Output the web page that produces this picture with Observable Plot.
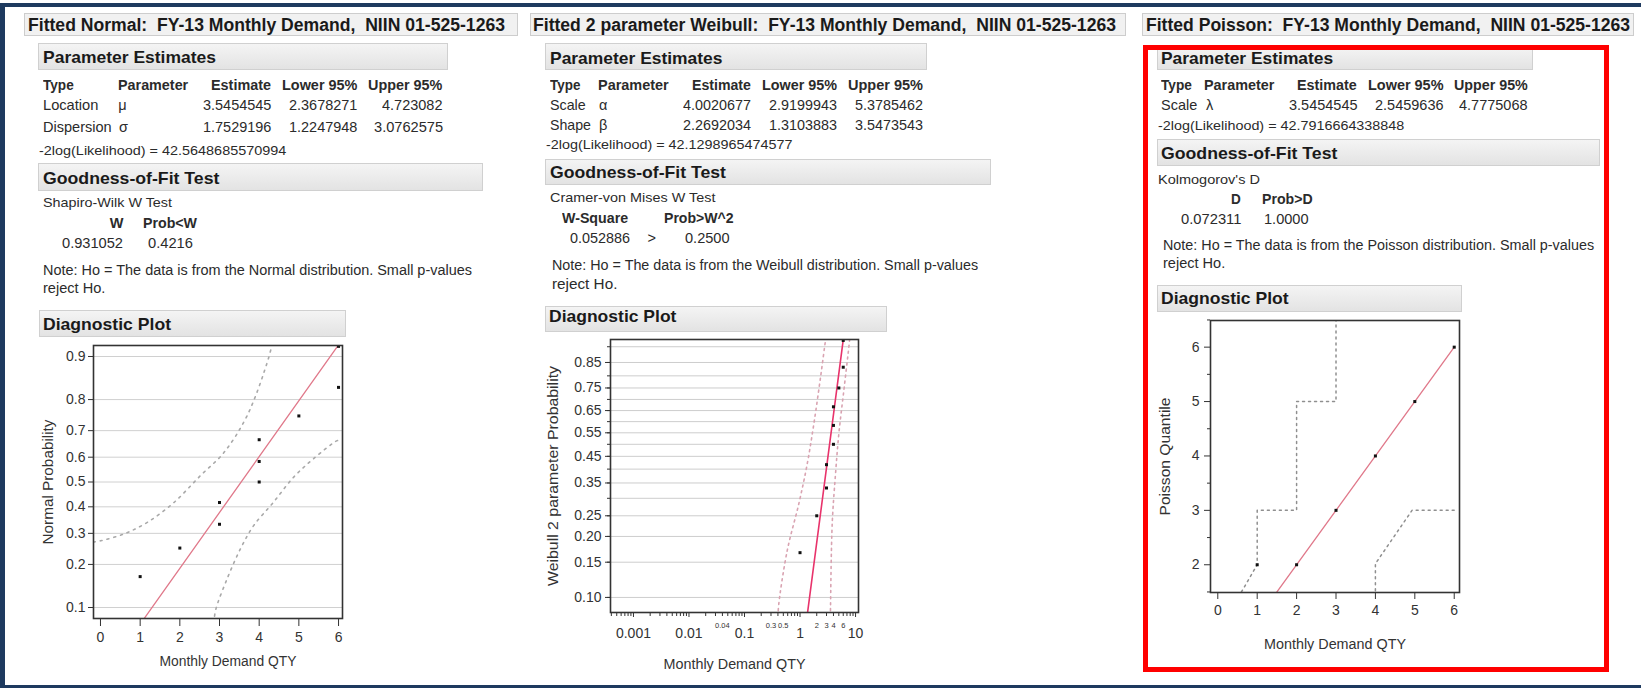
<!DOCTYPE html>
<html><head><meta charset="utf-8">
<script src="https://cdn.jsdelivr.net/npm/d3@7"></script>
<script src="https://cdn.jsdelivr.net/npm/@observablehq/plot@0.6"></script>
<style>
html,body{margin:0;padding:0;background:#fff;}
#stage{position:relative;width:1641px;height:688px;overflow:hidden;background:#fff;font-family:"Liberation Sans",Arial,sans-serif;color:#2b2b2b;}
.t{position:absolute;white-space:pre;line-height:1;}
.box{position:absolute;box-sizing:border-box;}
.title{background:#f1f1f1;border:1px solid #cdcdcd;}
.hdr{background:linear-gradient(#f4f4f4,#e3e3e3);border:1px solid #d0d0d0;}
.chart{position:absolute;}
</style></head><body><div id="stage"></div>
<script>
// ---------------- data ----------------
const demandQty = [1, 2, 3, 3, 4, 4, 4, 5, 6, 6];
const plotProb = [0.167, 0.25, 0.333, 0.417, 0.5, 0.583, 0.667, 0.75, 0.833, 0.917];

const normalMu = 3.5454545, normalSigma = 1.7529196;
const weibullAlpha = 4.0020677, weibullBeta = 2.2692034;

const normalTicks = [0.1, 0.2, 0.3, 0.4, 0.5, 0.6, 0.7, 0.8, 0.9];
const normalTickLabels = ["0.1", "0.2", "0.3", "0.4", "0.5", "0.6", "0.7", "0.8", "0.9"];
const normalXTicks = [0, 1, 2, 3, 4, 5, 6];
const normalXRange = [-0.176, 6.10];
const normalPRange = [0.0817, 0.9183];
const normalUpperX = [-0.18, 0, 0.59, 1.18, 1.85, 2.52, 3.11, 3.70, 4.24, 4.34];
const normalUpperP = [0.27, 0.274, 0.298, 0.34, 0.417, 0.526, 0.618, 0.752, 0.898, 0.925];
const normalLowerX = [2.86, 2.90, 3.19, 3.53, 3.86, 4.36, 4.87, 5.37, 5.92, 6.0];
const normalLowerP = [0.075, 0.095, 0.161, 0.248, 0.328, 0.418, 0.52, 0.594, 0.66, 0.665];

const weibullGridP = [0.10, 0.15, 0.20, 0.25, 0.30, 0.35, 0.40, 0.45, 0.50, 0.55, 0.60, 0.65, 0.70, 0.75, 0.80, 0.85, 0.90];
const weibullLabelP = [0.10, 0.15, 0.20, 0.25, 0.35, 0.45, 0.55, 0.65, 0.75, 0.85];
const weibullMajorX = [0.001, 0.01, 0.1, 1, 10];
const weibullMajorLabels = ["0.001", "0.01", "0.1", "1", "10"];
const weibullSmallX = [0.04, 0.3, 0.5, 2, 3, 4, 6];
const weibullSmallLabels = ["0.04", "0.3", "0.5", "2", "3", "4", "6"];
const weibullMinorX = [0.0004,0.0005,0.0006,0.0007,0.0008,0.0009,0.002,0.003,0.004,0.005,0.006,0.007,0.008,0.009,0.02,0.03,0.04,0.05,0.06,0.07,0.08,0.09,0.2,0.3,0.4,0.5,0.6,0.7,0.8,0.9,2,3,4,5,6,7,8,9];
const weibullXRange = [0.000386, 11.3];
const weibullPRange = [0.0838, 0.9193];
const weibullLowerX = [0.40, 0.415, 0.588, 0.952, 1.348, 1.773, 2.34, 2.88, 3.0];
const weibullLowerP = [0.08, 0.093, 0.171, 0.284, 0.420, 0.590, 0.794, 0.917, 0.93];
const weibullUpperX = [3.52, 3.54, 3.80, 4.36, 5.0, 6.15, 7.57, 7.9];
const weibullUpperP = [0.08, 0.089, 0.230, 0.383, 0.546, 0.739, 0.899, 0.925];

const poissonX = [1, 2, 3, 4, 5, 6];
const poissonQ = [2, 2, 3, 4, 5, 6];
const poissonRef = [1.45, 6];
const poissonYTicks = [2, 3, 4, 5, 6];
const poissonYMinor = [1.5, 2.5, 3.5, 4.5, 5.5, 6.5];
const poissonXTicks = [0, 1, 2, 3, 4, 5, 6];
const poissonXRange = [-0.185, 6.134];
const poissonYRange = [1.49, 6.49];
const poissonUpperX = [0.6, 1, 1, 2, 2, 3, 3];
const poissonUpperY = [1.5, 2, 3, 3, 5, 5, 6.6];
const poissonLowerX = [4, 4, 4.93, 6];
const poissonLowerY = [1.52, 2.02, 3, 3];

// ---------------- helpers ----------------
const FONT = '"Liberation Sans", Arial, sans-serif';
function probit(p){
 const a=[-3.969683028665376e+01,2.209460984245205e+02,-2.759285104469687e+02,1.383577518672690e+02,-3.066479806614716e+01,2.506628277459239e+00];
 const b=[-5.447609879822406e+01,1.615858368580409e+02,-1.556989798598866e+02,6.680131188771972e+01,-1.328068155288572e+01];
 const c=[-7.784894002430293e-03,-3.223964580411365e-01,-2.400758277161838e+00,-2.549732539343734e+00,4.374664141464968e+00,2.938163982698783e+00];
 const d=[7.784695709041462e-03,3.224671290700398e-01,2.445134137142996e+00,3.754408661907416e+00];
 const pl=0.02425, ph=1-pl; let q,r;
 if(p<pl){q=Math.sqrt(-2*Math.log(p));return (((((c[0]*q+c[1])*q+c[2])*q+c[3])*q+c[4])*q+c[5])/((((d[0]*q+d[1])*q+d[2])*q+d[3])*q+1);}
 if(p<=ph){q=p-0.5;r=q*q;return (((((a[0]*r+a[1])*r+a[2])*r+a[3])*r+a[4])*r+a[5])*q/(((((b[0]*r+b[1])*r+b[2])*r+b[3])*r+b[4])*r+1);}
 q=Math.sqrt(-2*Math.log(1-p));return -(((((c[0]*q+c[1])*q+c[2])*q+c[3])*q+c[4])*q+c[5])/((((d[0]*q+d[1])*q+d[2])*q+d[3])*q+1);
}
const wq = p => Math.log(-Math.log(1 - p));
const intFmt = d3.format("d");
const stage = document.getElementById("stage");

function box(cls, x1, y1, x2, y2){
  const b = document.createElement("div");
  b.className = "box " + cls;
  Object.assign(b.style, {left: x1+"px", top: y1+"px", width: (x2-x1)+"px", height: (y2-y1)+"px"});
  stage.appendChild(b); return b;
}
function T(str, x, y, o = {}){
  const s = document.createElement("div");
  s.className = "t"; s.textContent = str;
  const size = o.size || 14.5;
  s.style.fontSize = size + "px";
  s.style.fontWeight = o.bold ? "bold" : "normal";
  if (o.color) s.style.color = o.color;
  s.style.top = (y - 0.5*size) + "px";
  s.style.left = "0px";
  stage.appendChild(s);
  const nat = s.getBoundingClientRect().width;
  const w = o.w || nat;
  const left = o.end ? x - w : x;
  s.style.left = left + "px";
  s.style.transformOrigin = "0 0";
  s.style.transform = `scaleX(${w/nat})`;
}
function fitSvgText(svg, str, len){
  svg.querySelectorAll("text").forEach(t => {
    if (t.textContent === str) { t.setAttribute("textLength", len); t.setAttribute("lengthAdjust", "spacingAndGlyphs"); }
  });
}

// ---------------- frame decoration ----------------
const navy = "#1e3a5f";
box("", 0, 3, 1641, 7).style.background = navy;
box("", 0, 3, 5, 688).style.background = navy;
box("", 0, 685, 1641, 688).style.background = navy;

// titles
box("title", 24, 13, 518, 36);
box("title", 530, 13, 1126, 36);
box("title", 1142, 13, 1634, 36);
T("Fitted Normal:  FY-13 Monthly Demand,  NIIN 01-525-1263", 28, 24.5, {size: 18, bold: true, w: 477, color: "#1a1a1a"});
T("Fitted 2 parameter Weibull:  FY-13 Monthly Demand,  NIIN 01-525-1263", 533, 24.5, {size: 18, bold: true, w: 583, color: "#1a1a1a"});
T("Fitted Poisson:  FY-13 Monthly Demand,  NIIN 01-525-1263", 1146, 24.5, {size: 18, bold: true, w: 484, color: "#1a1a1a"});

// ---------- panel 1 text ----------
box("hdr", 38, 43, 448, 70);
T("Parameter Estimates", 43, 57.7, {size: 17, bold: true, w: 173, color: "#1a1a1a"});
T("Type", 43, 85, {bold: true, w: 30.7}); T("Parameter", 118.2, 85, {bold: true, w: 70.2});
T("Estimate", 271.1, 85, {bold: true, w: 60, end: true}); T("Lower 95%", 357.8, 85, {bold: true, w: 75.4, end: true}); T("Upper 95%", 442.7, 85, {bold: true, w: 74.4, end: true});
T("Location", 43, 105, {w: 55.4}); T("\u03bc", 118.2, 105);
T("3.5454545", 271.1, 105, {w: 68.4, end: true}); T("2.3678271", 357.8, 105, {w: 68.4, end: true}); T("4.723082", 442.7, 105, {w: 60.5, end: true});
T("Dispersion", 43, 127.7, {w: 68.7}); T("\u03c3", 119, 127.7);
T("1.7529196", 271.1, 127.7, {w: 68.4, end: true}); T("1.2247948", 357.8, 127.7, {w: 68.4, end: true}); T("3.0762575", 442.7, 127.7, {w: 69.1, end: true});
T("-2log(Likelihood) = 42.5648685570994", 38.6, 151, {size: 13.5, w: 247.3});
box("hdr", 38, 163, 483, 191);
T("Goodness-of-Fit Test", 43, 178.3, {size: 17, bold: true, w: 176.4, color: "#1a1a1a"});
T("Shapiro-Wilk W Test", 43, 202.3, {size: 13.5, w: 129});
T("W", 123.5, 223.5, {bold: true, end: true}); T("Prob<W", 143.1, 223.5, {bold: true, w: 54});
T("0.931052", 62.4, 243.5, {w: 61}); T("0.4216", 148, 243.5, {w: 44.9});
T("Note: Ho = The data is from the Normal distribution. Small p-values", 43, 270, {size: 14, w: 429});
T("reject Ho.", 43, 287.5, {size: 14, w: 62.4});
box("hdr", 39, 310, 346, 337);
T("Diagnostic Plot", 42.7, 324.5, {size: 17, bold: true, w: 128, color: "#1a1a1a"});

// ---------- panel 2 text ----------
box("hdr", 545, 43, 927, 70);
T("Parameter Estimates", 549.6, 58.3, {size: 17, bold: true, w: 172.5, color: "#1a1a1a"});
T("Type", 549.6, 85, {bold: true, w: 30.4}); T("Parameter", 597.9, 85, {bold: true, w: 70.7});
T("Estimate", 750.7, 85, {bold: true, w: 58.9, end: true}); T("Lower 95%", 837.1, 85, {bold: true, w: 75, end: true}); T("Upper 95%", 922.9, 85, {bold: true, w: 75, end: true});
T("Scale", 549.6, 105, {w: 35.7}); T("\u03b1", 599, 105);
T("4.0020677", 750.7, 105, {w: 67.9, end: true}); T("2.9199943", 837.1, 105, {w: 67.9, end: true}); T("5.3785462", 922.9, 105, {w: 67.9, end: true});
T("Shape", 549.6, 125.7, {w: 41}); T("\u03b2", 599, 125.7);
T("2.2692034", 750.7, 125.7, {w: 67.9, end: true}); T("1.3103883", 837.1, 125.7, {w: 67.9, end: true}); T("3.5473543", 922.9, 125.7, {w: 67.9, end: true});
T("-2log(Likelihood) = 42.1298965474577", 546, 145.2, {size: 13.5, w: 246.4});
box("hdr", 545, 159, 991, 185);
T("Goodness-of-Fit Test", 549.6, 172.3, {size: 17, bold: true, w: 176, color: "#1a1a1a"});
T("Cramer-von Mises W Test", 549.6, 197.5, {size: 13.5, w: 165.4});
T("W-Square", 562.1, 218.5, {bold: true, w: 66.1}); T("Prob>W^2", 663.9, 218.5, {bold: true, w: 69.6});
T("0.052886", 570, 238.5, {w: 60}); T(">", 647.5, 238.5); T("0.2500", 685.4, 238.5, {w: 44.6});
T("Note: Ho = The data is from the Weibull distribution. Small p-values", 552.1, 265, {size: 14, w: 426.1});
T("reject Ho.", 552.1, 283.5, {size: 14, w: 65.4});
box("hdr", 545, 306, 887, 332);
T("Diagnostic Plot", 549.3, 316, {size: 17, bold: true, w: 127.4, color: "#1a1a1a"});

// ---------- panel 3 text ----------
box("hdr", 1157, 46, 1533, 70);
T("Parameter Estimates", 1161, 58.3, {size: 17, bold: true, w: 172.2, color: "#1a1a1a"});
T("Type", 1161, 85, {bold: true, w: 30.9}); T("Parameter", 1204.2, 85, {bold: true, w: 70.3});
T("Estimate", 1357, 85, {bold: true, w: 59.7, end: true}); T("Lower 95%", 1443.1, 85, {bold: true, w: 75.5, end: true}); T("Upper 95%", 1527.5, 85, {bold: true, w: 73.8, end: true});
T("Scale", 1161, 105, {w: 36.2}); T("\u03bb", 1206, 105);
T("3.5454545", 1357, 105, {w: 68.5, end: true}); T("2.5459636", 1443.1, 105, {w: 68.5, end: true}); T("4.7775068", 1527.5, 105, {w: 68.5, end: true});
T("-2log(Likelihood) = 42.7916664338848", 1157.5, 125.8, {size: 13.5, w: 246.3});
box("hdr", 1157, 139, 1600, 166);
T("Goodness-of-Fit Test", 1161, 153.3, {size: 17, bold: true, w: 176.4, color: "#1a1a1a"});
T("Kolmogorov's D", 1157.5, 179.5, {size: 13.5, w: 101.9});
T("D", 1230.5, 199.5, {bold: true, w: 9.8}); T("Prob>D", 1261.5, 199.5, {bold: true, w: 50.6});
T("0.072311", 1180.6, 219.5, {w: 60.4}); T("1.0000", 1264, 219.5, {w: 44.6});
T("Note: Ho = The data is from the Poisson distribution. Small p-values", 1163.1, 245, {size: 14, w: 431.1});
T("reject Ho.", 1163.1, 263, {size: 14, w: 62.2});
box("hdr", 1157, 285, 1462, 312);
T("Diagnostic Plot", 1160.7, 298.5, {size: 17, bold: true, w: 127.6, color: "#1a1a1a"});

// red highlight
const red = box("", 1143, 45, 1609, 672);
red.style.border = "5px solid #ff0000";

// ---------------- charts ----------------
function place(svg, left, top){
  const d = document.createElement("div");
  d.className = "chart"; d.style.left = left+"px"; d.style.top = top+"px";
  d.appendChild(svg); stage.appendChild(d);
  return svg;
}
const baseStyle = {fontFamily: FONT, fontSize: "14px", background: "none", overflow: "visible", color: "#333"};

// Panel 1: normal probability plot
const nPts = demandQty.map((x, i) => ({x, p: plotProb[i]}));
const nUp = normalUpperX.map((x, i) => ({x, p: normalUpperP[i]}));
const nLo = normalLowerX.map((x, i) => ({x, p: normalLowerP[i]}));
const nFit = [-1.6, 1.6].map(z => ({x: normalMu + normalSigma*z, z}));
const nLabel = new Map(normalTicks.map((p, i) => [probit(p), normalTickLabels[i]]));
const svg1 = place(Plot.plot({
  width: 340, height: 345, marginLeft: 73, marginRight: 18, marginTop: 10, marginBottom: 62,
  style: baseStyle,
  x: {domain: normalXRange},
  y: {domain: normalPRange.map(probit)},
  marks: [
    Plot.ruleY(normalTicks, {y: probit, stroke: "#d0d0d0", strokeWidth: 1}),
    Plot.line(nUp, {x: "x", y: d => probit(d.p), stroke: "#a9a9a9", strokeWidth: 1.6, strokeDasharray: "2,5", curve: "catmull-rom", clip: true}),
    Plot.line(nLo, {x: "x", y: d => probit(d.p), stroke: "#a9a9a9", strokeWidth: 1.6, strokeDasharray: "2,5", curve: "catmull-rom", clip: true}),
    Plot.line(nFit, {x: "x", y: "z", stroke: "#e0788a", strokeWidth: 1.3, clip: true}),
    Plot.dot(nPts, {x: "x", y: d => probit(d.p), symbol: "square", r: 1.7, fill: "#111", clip: true}),
    Plot.axisX({ticks: normalXTicks, tickFormat: intFmt, tickSize: 8, tickPadding: 6, label: null, stroke: "#333", fill: "#333"}),
    Plot.axisY({ticks: normalTicks.map(probit), tickFormat: z => nLabel.get(z), tickSize: 5, tickPadding: 3, label: null, stroke: "#333", fill: "#333"}),
    Plot.text(["Monthly Demand QTY"], {text: d => d, frameAnchor: "bottom", dy: 47, dx: 10, fontSize: 14, fill: "#333"}),
    Plot.text(["Normal Probability"], {text: d => d, frameAnchor: "left", rotate: -90, dx: -45, fontSize: 15, fill: "#333", textAnchor: "middle"}),
    Plot.frame({stroke: "#333", strokeWidth: 1.6})
  ]
}), 20, 335);
fitSvgText(svg1, "Monthly Demand QTY", 137);
fitSvgText(svg1, "Normal Probability", 125);

// Panel 2: Weibull probability plot
const wPts = demandQty.map((x, i) => ({x, p: plotProb[i]}));
const wUp = weibullUpperX.map((x, i) => ({x, p: weibullUpperP[i]}));
const wLo = weibullLowerX.map((x, i) => ({x, p: weibullLowerP[i]}));
const wFit = [-2.7, 1.1].map(w => ({x: weibullAlpha*Math.exp(w/weibullBeta), w}));
const wLabel = new Map(weibullLabelP.map(p => [wq(p), p.toFixed(2)]));
const wMajLabel = new Map(weibullMajorX.map((x, i) => [x, weibullMajorLabels[i]]));
const svg2 = place(Plot.plot({
  width: 360, height: 355, marginLeft: 105, marginRight: 7, marginTop: 10, marginBottom: 72,
  style: baseStyle,
  x: {type: "log", domain: weibullXRange},
  y: {domain: weibullPRange.map(wq)},
  marks: [
    Plot.ruleY(weibullGridP, {y: wq, stroke: "#cdcdcd", strokeWidth: 1}),
    Plot.line(wLo, {x: "x", y: d => wq(d.p), stroke: "#d9a3b1", strokeWidth: 1.6, strokeDasharray: "2,4", curve: "catmull-rom", clip: true}),
    Plot.line(wUp, {x: "x", y: d => wq(d.p), stroke: "#d9a3b1", strokeWidth: 1.6, strokeDasharray: "2,4", curve: "catmull-rom", clip: true}),
    Plot.line(wFit, {x: "x", y: "w", stroke: "#e8336b", strokeWidth: 1.6, clip: true}),
    Plot.dot(wPts, {x: "x", y: d => wq(d.p), symbol: "square", r: 1.7, fill: "#111", clip: true}),
    Plot.axisX({ticks: weibullMinorX, tickSize: 4, tickFormat: () => "", label: null, stroke: "#333"}),
    Plot.axisX({ticks: weibullMajorX, tickSize: 5, tickPadding: 11, tickFormat: x => wMajLabel.get(x), label: null, stroke: "#333", fill: "#333"}),
    Plot.text(weibullSmallX, {x: d => d, text: (d, i) => weibullSmallLabels[i], frameAnchor: "bottom", dy: 15, fontSize: 7.5, fill: "#333"}),
    Plot.axisY({ticks: weibullGridP.map(wq), tickSize: 3, tickFormat: () => "", label: null, stroke: "#333"}),
    Plot.axisY({ticks: weibullLabelP.map(wq), tickFormat: w => wLabel.get(w), tickSize: 5, tickPadding: 4, label: null, stroke: "#333", fill: "#333"}),
    Plot.text(["Monthly Demand QTY"], {text: d => d, frameAnchor: "bottom", dy: 56, fontSize: 14, fill: "#333"}),
    Plot.text(["Weibull 2 parameter Probability"], {text: d => d, frameAnchor: "left", rotate: -90, dx: -57, fontSize: 15.5, fill: "#333", textAnchor: "middle"}),
    Plot.frame({stroke: "#333", strokeWidth: 1.6})
  ]
}), 505, 329);
fitSvgText(svg2, "Monthly Demand QTY", 142);
fitSvgText(svg2, "Weibull 2 parameter Probability", 220);

// Panel 3: Poisson quantile plot
const pPts = poissonX.map((x, i) => ({x, q: poissonQ[i]}));
const pUp = poissonUpperX.map((x, i) => ({x, y: poissonUpperY[i]}));
const pLo = poissonLowerX.map((x, i) => ({x, y: poissonLowerY[i]}));
const pRef = poissonRef.map(v => ({x: v, y: v}));
const svg3 = place(Plot.plot({
  width: 320, height: 350, marginLeft: 60, marginRight: 11, marginTop: 10, marginBottom: 68,
  style: baseStyle,
  x: {domain: poissonXRange},
  y: {domain: poissonYRange},
  marks: [
    Plot.line(pUp, {x: "x", y: "y", stroke: "#8f8f8f", strokeWidth: 1.5, strokeDasharray: "2,4", clip: true}),
    Plot.line(pLo, {x: "x", y: "y", stroke: "#8f8f8f", strokeWidth: 1.5, strokeDasharray: "2,4", clip: true}),
    Plot.line(pRef, {x: "x", y: "y", stroke: "#e0788a", strokeWidth: 1.3, clip: true}),
    Plot.dot(pPts, {x: "x", y: "q", symbol: "square", r: 1.7, fill: "#111", clip: true}),
    Plot.axisX({ticks: poissonXTicks, tickFormat: intFmt, tickSize: 7, tickPadding: 6, label: null, stroke: "#333", fill: "#333"}),
    Plot.axisY({ticks: poissonYMinor, tickSize: 3, tickFormat: () => "", label: null, stroke: "#333"}),
    Plot.axisY({ticks: poissonYTicks, tickFormat: intFmt, tickSize: 6, tickPadding: 5, label: null, stroke: "#333", fill: "#333"}),
    Plot.text(["Monthly Demand QTY"], {text: d => d, frameAnchor: "bottom", dy: 56, fontSize: 14, fill: "#333"}),
    Plot.text(["Poisson Quantile"], {text: d => d, frameAnchor: "left", rotate: -90, dx: -45, fontSize: 15.5, fill: "#333", textAnchor: "middle"}),
    Plot.frame({stroke: "#333", strokeWidth: 1.6})
  ]
}), 1150, 310);
fitSvgText(svg3, "Monthly Demand QTY", 142);
fitSvgText(svg3, "Poisson Quantile", 118);
</script></body></html>
